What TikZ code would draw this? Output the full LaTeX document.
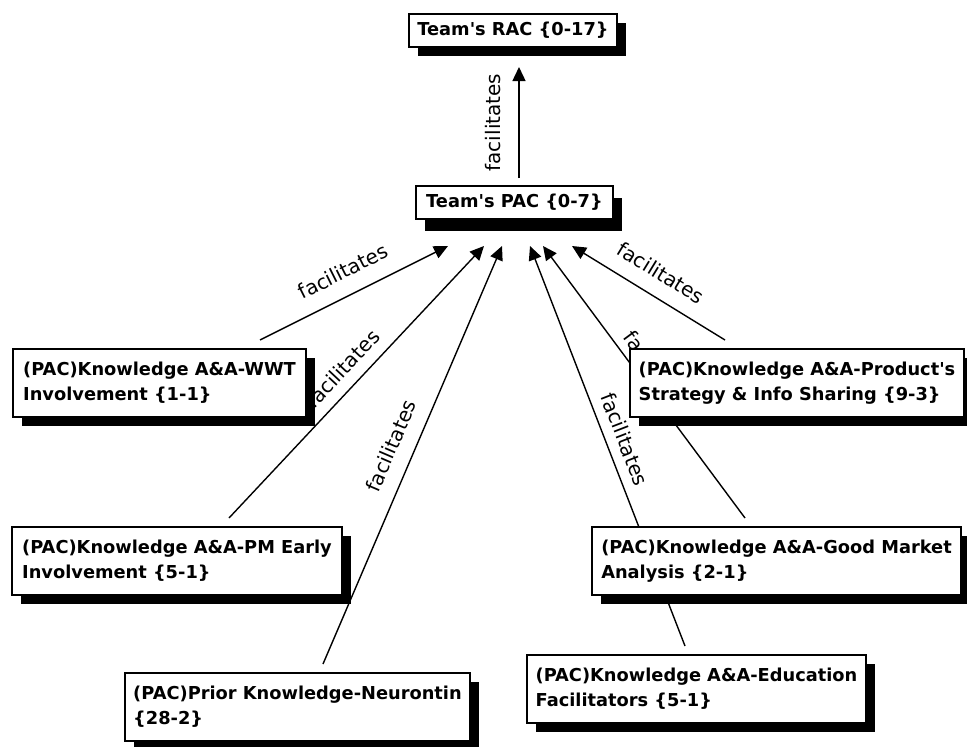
\documentclass[tikz,border=0pt]{standalone}
\usepackage{fontspec}
\setmainfont{DejaVu Sans}
\usetikzlibrary{arrows.meta,shadows,backgrounds}

\begin{document}
\begin{tikzpicture}[x=1pt,y=1pt,>={Triangle[length=14pt,width=13pt]},
    box/.style={draw,line width=2pt,fill=white,align=left,inner xsep=4pt,inner ysep=0pt,
      font=\bfseries\fontsize{17.8}{25}\selectfont,
      drop shadow={shadow xshift=9pt,shadow yshift=#1,fill=black,opacity=1}},
    box/.default=-9pt,
    lbl/.style={font=\fontsize{20}{24}\selectfont,sloped,midway,inner sep=2pt,above=6pt}]

  \useasboundingbox (0,0) rectangle (967,-747);

  \node[box,minimum width=208pt,minimum height=33pt] (rac) at (513,-30.5) {Team\textquotesingle s RAC \{0-17\}};
  \node[box=-12pt,minimum width=197pt,minimum height=33pt] (pac) at (514.5,-202.5) {Team\textquotesingle s PAC \{0-7\}};

  \node[box,minimum width=293pt,minimum height=68pt] (wwt) at (159.5,-383) {(PAC)Knowledge A\&A-WWT\\Involvement \{1-1\}};
  \node[box,minimum width=330pt,minimum height=68pt] (pm) at (177,-561) {(PAC)Knowledge A\&A-PM Early\\Involvement \{5-1\}};
  \node[box,minimum width=345pt,minimum height=68pt] (neu) at (297.5,-707) {(PAC)Prior Knowledge-Neurontin\\\{28-2\}};
  \node[box,minimum width=334pt,minimum height=68pt] (prod) at (797,-383) {(PAC)Knowledge A\&A-Product\textquotesingle s\\Strategy \& Info Sharing \{9-3\}};
  \node[box,minimum width=369pt,minimum height=68pt] (mkt) at (776.5,-561) {(PAC)Knowledge A\&A-Good Market\\Analysis \{2-1\}};
  \node[box,minimum width=339pt,minimum height=68pt] (edu) at (696.5,-689) {(PAC)Knowledge A\&A-Education\\Facilitators \{5-1\}};

  % links go behind the boxes
  \begin{scope}[on background layer]
    \path[->,line width=1.4pt,every node/.style={lbl}]
      ([xshift=4.5pt,yshift=7pt]pac.north) edge node[above=9.5pt] {facilitates} ([xshift=6pt,yshift=-19pt]rac.south)
      ([xshift=100.5pt,yshift=8pt]wwt.north) edge node[above=8pt] {facilitates} ([xshift=-66.5pt,yshift=-26pt]pac.south)
      ([xshift=52pt,yshift=8pt]pm.north) edge node[above=3pt] {facilitates} ([xshift=-30.5pt,yshift=-26pt]pac.south)
      ([xshift=25.5pt,yshift=8pt]neu.north) edge node[above=7pt] {facilitates} ([xshift=-12.5pt,yshift=-26pt]pac.south)
      ([xshift=-11.5pt,yshift=8pt]edu.north) edge node[above=2pt] {facilitates} ([xshift=15.5pt,yshift=-26pt]pac.south)
      ([xshift=-31.5pt,yshift=8pt]mkt.north) edge node {facilitates} ([xshift=28.5pt,yshift=-26pt]pac.south)
      ([xshift=-72pt,yshift=8pt]prod.north) edge node[above=7.5pt] {facilitates} ([xshift=57.5pt,yshift=-26pt]pac.south);
  \end{scope}
\end{tikzpicture}
\end{document}
